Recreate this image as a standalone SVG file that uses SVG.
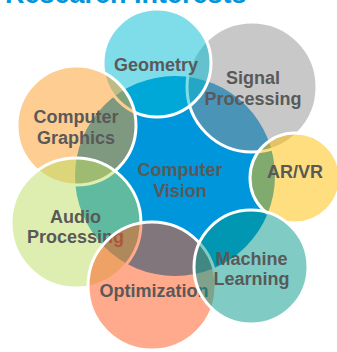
<svg xmlns="http://www.w3.org/2000/svg" width="337" height="352" viewBox="0 0 337 352">
  <style>
    .t { font-family: "Liberation Sans", Arial, sans-serif; font-weight: bold; font-size: 18px; fill: #595959; text-anchor: middle; }
    .c { stroke: #ffffff; stroke-width: 3; fill-opacity: 0.5; }
    .title { font-family: "Liberation Sans", Arial, sans-serif; font-weight: bold; font-size: 27px; fill: #0096DC; }
  </style>
  <rect width="337" height="352" fill="#ffffff"/>
  <text class="title" x="5" y="3">Research Interests</text>
  <g id="node-computer-vision">
    <circle cx="175" cy="176" r="100" fill="#0096DC"/>
    <text class="t" x="180" y="176">Computer</text>
    <text class="t" x="180" y="197">Vision</text>
  </g>
  <g id="node-signal-processing">
    <circle class="c" cx="252" cy="87" r="65" fill="#919191"/>
    <text class="t" x="253" y="84">Signal</text>
    <text class="t" x="253" y="105">Processing</text>
  </g>
  <g id="node-ar-vr">
    <circle class="c" cx="295" cy="178" r="45" fill="#FFBD00"/>
    <text class="t" x="295" y="178">AR/VR</text>
  </g>
  <g id="node-geometry">
    <circle class="c" cx="157" cy="63" r="54" fill="#00B9D3"/>
    <text class="t" x="156" y="71">Geometry</text>
  </g>
  <g id="node-computer-graphics">
    <circle class="c" cx="76.5" cy="125.5" r="59.5" fill="#FB9B23"/>
    <text class="t" x="76" y="123">Computer</text>
    <text class="t" x="76" y="144">Graphics</text>
  </g>
  <g id="node-audio-processing">
    <circle class="c" cx="76" cy="223" r="65" fill="#BDDD61"/>
    <text class="t" x="75.5" y="223">Audio</text>
    <text class="t" x="75.5" y="243">Processing</text>
  </g>
  <g id="node-optimization">
    <circle class="c" cx="152" cy="286" r="64" fill="#FF5519"/>
    <text class="t" x="154" y="297">Optimization</text>
  </g>
  <g id="node-machine-learning">
    <circle class="c" cx="251" cy="267" r="57" fill="#019789"/>
    <text class="t" x="251.5" y="265">Machine</text>
    <text class="t" x="251.5" y="285">Learning</text>
  </g>
</svg>
